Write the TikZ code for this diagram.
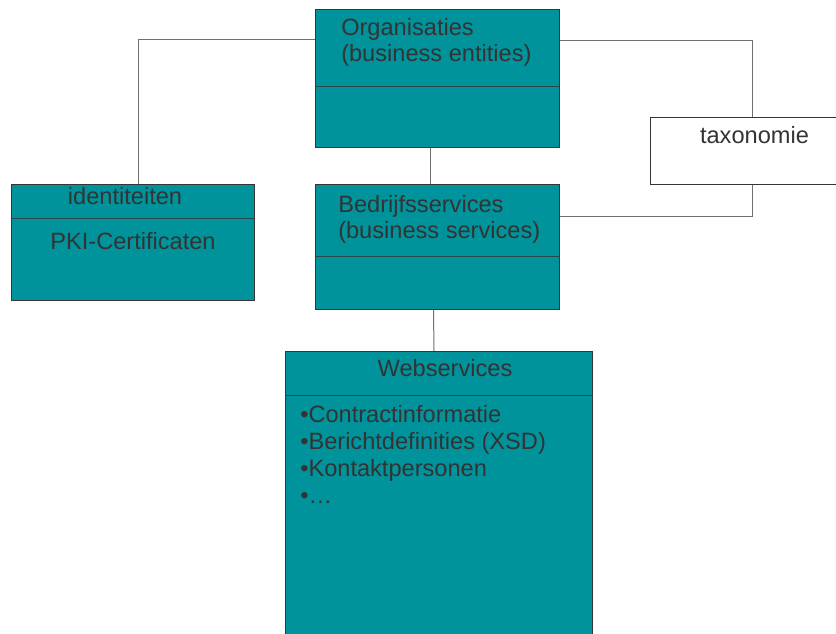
\documentclass[tikz,border=0pt]{standalone}
\usepackage{fontspec}
\setmainfont{Liberation Sans}
\usetikzlibrary{calc,positioning}
\definecolor{UMLTeal}{HTML}{00939B}
\definecolor{UMLText}{HTML}{333333}
\definecolor{UMLEdge}{HTML}{353535}
\definecolor{UMLLink}{HTML}{707070}
\newlength\pxu\setlength\pxu{0.75pt}
\tikzset{classbox/.style={draw=UMLEdge,fill=UMLTeal,inner sep=0pt,anchor=north west,line width=1\pxu}, notebox/.style={classbox,fill=white}, sepline/.style={draw=UMLEdge!80!UMLTeal,line width=1\pxu}, link/.style={draw=UMLLink,line width=1\pxu}, lbl/.style={inner sep=0pt,text=UMLText,font=\fontsize{17.7}{20}\selectfont,align=left}}

\begin{document}
\begin{tikzpicture}[x=0.75pt,y=-0.75pt]
\useasboundingbox (0,0) rectangle (836,634);
\node[classbox,minimum width=244*\pxu,minimum height=138*\pxu] (org) at (315,9) {};\node[classbox,minimum width=243*\pxu,minimum height=116*\pxu] (ident) at (11,184) {};\node[classbox,minimum width=244*\pxu,minimum height=125*\pxu] (bedr) at (315,184) {};
\node[notebox,minimum width=204*\pxu,minimum height=67*\pxu] (tax) at (650,117) {};\node[classbox,minimum width=307*\pxu,minimum height=300*\pxu] (web) at (285,351) {};
\draw[sepline] ($(org.north west)+(0,78)$)--($(org.north east)+(0,78)$);\draw[sepline] ($(ident.north west)+(0,35)$)--($(ident.north east)+(0,35)$);\draw[sepline] ($(bedr.north west)+(0,73)$)--($(bedr.north east)+(0,73)$);\draw[sepline] ($(web.north west)+(0,45)$)--($(web.north east)+(0,45)$);
\node[lbl,anchor=base west] (orgname) at ($(org.north west)+(26,53)$) {Organisaties\\(business entities)};
\node[lbl,anchor=base] (identname) at ($(ident.north)+(-8,21)$) {identiteiten};\node[lbl,anchor=base] (identattr) at ($(ident.north)+(0,66)$) {PKI-Certificaten};
\node[lbl,anchor=base] (taxname) at ($(tax.north)+(2,27)$) {taxonomie};
\node[lbl,anchor=base west] (bedrname) at ($(bedr.north west)+(23,55)$) {Bedrijfsservices\\(business services)};
\node[lbl,anchor=base] (webname) at ($(web.north)+(6,26)$) {Webservices};
\node[lbl,anchor=base west,font=\fontsize{17.7}{20.3}\selectfont] (webattr) at ($(web.north west)+(15,153)$) {•Contractinformatie\\•Berichtdefinities (XSD)\\•Kontaktpersonen\\•…};
\draw[link] ($(org.north west)+(0,31)$) -| ($(ident.north)+(5,0)$);\draw[link] ($(org.north east)+(0,32)$) -| (tax.north);\draw[link] (tax.south) |- ($(bedr.north east)+(0,33)$);
\draw[link] ($(org.south)+(-7,0)$)--($(bedr.north)+(-7,0)$);\draw[link] ($(bedr.south)+(-4,0)$)--($(web.north)+(-5,0)$);
\end{tikzpicture}
\end{document}
